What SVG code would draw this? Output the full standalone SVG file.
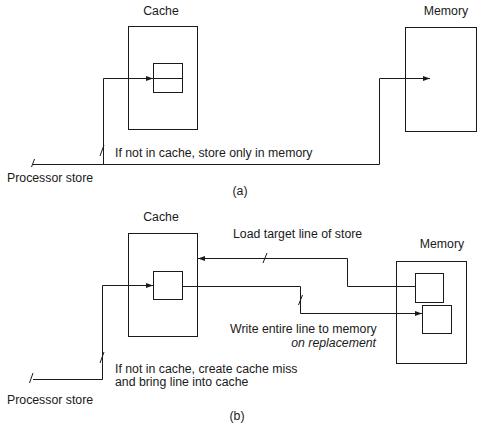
<svg xmlns="http://www.w3.org/2000/svg" width="484" height="428" viewBox="0 0 484 428">
<style>
  .t { font-family: "Liberation Sans", Arial, sans-serif; font-size: 12.3px; fill: #1a1a1a; }
  .c { text-anchor: middle; }
  .i { font-style: italic; text-anchor: end; }
  .box { fill: none; stroke: #1a1a1a; stroke-width: 1; }
  .ln { fill: none; stroke: #1a1a1a; stroke-width: 1; }
  .tick { stroke: #1a1a1a; stroke-width: 1; }
</style>
<defs>
  <marker id="arr" markerWidth="7" markerHeight="6" refX="7" refY="3" orient="auto" markerUnits="userSpaceOnUse">
    <path d="M0,0.5 L7,3 L0,5.5 z" fill="#1a1a1a"/>
  </marker>
</defs>
<rect width="484" height="428" fill="#ffffff"/>

<!-- Part (a) -->
<g id="cache-a">
  <rect class="box" x="128.5" y="26.5" width="69" height="103"/>
  <rect class="box" x="153.5" y="63.5" width="29" height="29"/>
  <line class="ln" x1="153.5" y1="78.5" x2="182.5" y2="78.5"/>
  <text class="t c" x="161" y="15">Cache</text>
</g>
<g id="memory-a">
  <rect class="box" x="405.5" y="27.5" width="71" height="104"/>
  <text class="t c" x="446" y="15">Memory</text>
</g>
<g id="labels-a">
  <text class="t" x="115" y="157">If not in cache, store only in memory</text>
  <text class="t" x="7" y="182">Processor store</text>
  <text class="t c" x="240" y="195">(a)</text>
</g>

<!-- Part (b) -->
<g id="cache-b">
  <rect class="box" x="128.5" y="233.5" width="69" height="103"/>
  <rect class="box" x="153.5" y="271.5" width="29" height="28"/>
  <text class="t c" x="161" y="221">Cache</text>
</g>
<g id="memory-b">
  <rect class="box" x="396.5" y="261.5" width="70" height="102"/>
  <rect class="box" x="415.5" y="273.5" width="28" height="29"/>
  <rect class="box" x="422.5" y="305.5" width="29" height="28"/>
  <text class="t c" x="442" y="248">Memory</text>
</g>
<g id="labels-b">
  <text class="t" x="233" y="238">Load target line of store</text>
  <text class="t" x="230" y="333">Write entire line to memory</text>
  <text class="t i" x="376" y="347">on replacement</text>
  <text class="t" x="115" y="373">If not in cache, create cache miss</text>
  <text class="t" x="115" y="386">and bring line into cache</text>
  <text class="t" x="7" y="404">Processor store</text>
  <text class="t c" x="237" y="420">(b)</text>
</g>

<g id="connectors">
  <!-- (a) -->
  <path class="ln" d="M33,164.5 H379.5 V78.5 H430" marker-end="url(#arr)"/>
  <path class="ln" d="M103.5,164.5 V78.5 H153" marker-end="url(#arr)"/>
  <line class="tick" x1="31.5" y1="167" x2="34.5" y2="159"/>
  <line class="tick" x1="100" y1="156" x2="104" y2="145"/>
  <!-- (b) -->
  <path class="ln" d="M33,379.5 H102.5 V285.5 H153" marker-end="url(#arr)"/>
  <line class="tick" x1="29.5" y1="383" x2="33" y2="373"/>
  <line class="tick" x1="100" y1="363" x2="104" y2="352"/>
  <path class="ln" d="M182.5,286.5 H300.5 V313.5 H422" marker-end="url(#arr)"/>
  <line class="tick" x1="298.5" y1="305" x2="302.5" y2="295"/>
  <path class="ln" d="M415.5,286.5 H347.5 V258.5 H198" marker-end="url(#arr)"/>
  <line class="tick" x1="263" y1="263" x2="267" y2="253"/>
</g>
</svg>
